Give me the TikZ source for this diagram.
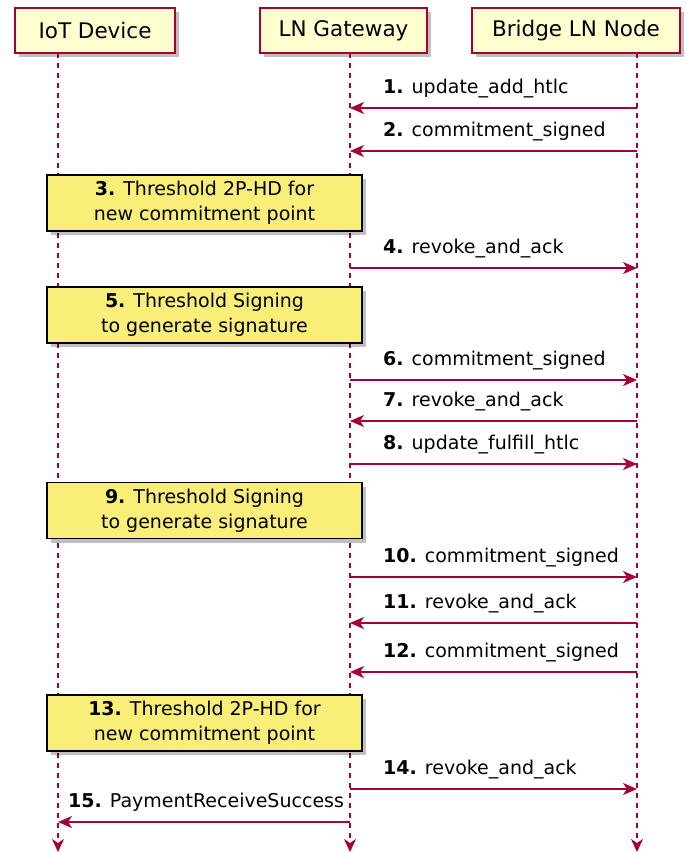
\documentclass[tikz,border=0pt]{standalone}
\usepackage{fontspec}
\setmainfont{DejaVu Sans}
\usepackage{xcolor}
\usetikzlibrary{arrows.meta}
\usetikzlibrary{calc}
\usetikzlibrary{shadows}
\definecolor{seqline}{HTML}{A80036}
\definecolor{seqpart}{HTML}{FEFECE}
\definecolor{seqnote}{HTML}{F8EE78}
\tikzset{
    participant/.style={draw=seqline, fill=seqpart, line width=1.2pt, inner sep=0pt,
        minimum height=45pt, font=\fontsize{21.5}{25}\selectfont,
        drop shadow={shadow xshift=4pt, shadow yshift=-4pt, fill=black, opacity=0.25}},
    notebox/.style={draw=black, fill=seqnote, line width=1.2pt, inner sep=0pt,
        minimum width=315pt, minimum height=56pt, align=center,
        font=\fontsize{19}{25}\selectfont,
        drop shadow={shadow xshift=4pt, shadow yshift=-4pt, fill=black, opacity=0.25}},
    lifeline/.style={seqline, line width=1.2pt, dash pattern=on 5pt off 5pt,
        -{Stealth[length=13pt, width=12pt, inset=4pt]}},
    message/.style={seqline, line width=1.5pt,
        -{Stealth[length=14pt, width=12pt, inset=4pt]}},
    msglabel/.style={anchor=base west, inner sep=0pt, font=\fontsize{19}{25}\selectfont}
}
\begin{document}
\begin{tikzpicture}[x=1pt, y=-1pt]
        \newcommand{\seqiotx}{58}
        \newcommand{\seqgwx}{350}
        \newcommand{\seqbrx}{637}
        \newcommand{\seqlabx}{383}
        \useasboundingbox (0,0) rectangle (686,852);
        % participants
        \node[participant, minimum width=160pt] (iot) at (95,30.5) {IoT Device};
        \node[participant, minimum width=167pt] (gw) at (343.5,30.5) {LN Gateway};
        \node[participant, minimum width=208pt] (br) at (576,30.5) {Bridge LN Node};
        % lifelines
        \coordinate (iottop) at (\seqiotx,53);
        \coordinate (gwtop) at (\seqgwx,53);
        \coordinate (brtop) at (\seqbrx,53);
        \coordinate (iotend) at (\seqiotx,852);
        \coordinate (gwend) at (\seqgwx,852);
        \coordinate (brend) at (\seqbrx,852);
        \draw[lifeline] (iottop) -- (iotend);
        \draw[lifeline] (gwtop) -- (gwend);
        \draw[lifeline] (brtop) -- (brend);
        % messages between gateway and bridge
        \foreach \i/\y/\dir/\txt in {1/108/l/update\_add\_htlc, 2/151/l/commitment\_signed,
                4/268/r/revoke\_and\_ack, 6/380/r/commitment\_signed,
                7/421/l/revoke\_and\_ack, 8/464/r/update\_fulfill\_htlc,
                10/577/r/commitment\_signed, 11/623/l/revoke\_and\_ack,
                12/672/l/commitment\_signed, 14/789/r/revoke\_and\_ack} {
            \coordinate (gw\i) at (\seqgwx,\y);
            \coordinate (br\i) at (\seqbrx,\y);
            \node[msglabel] (lab\i) at (\seqlabx,\y-15) {\textbf{\i.} \txt};
            \if l\dir
                \draw[message] (br\i) -- (gw\i);
            \else
                \draw[message] (gw\i) -- (br\i);
            \fi
        }
        % notes
        \node[notebox] (note3) at (204.5,203) {\textbf{3.} Threshold 2P-HD for\\new commitment point};
        \node[notebox] (note5) at (204.5,315) {\textbf{5.} Threshold Signing\\to generate signature};
        \node[notebox] (note9) at (204.5,510.5) {\textbf{9.} Threshold Signing\\to generate signature};
        \node[notebox] (note13) at (204.5,723) {\textbf{13.} Threshold 2P-HD for\\new commitment point};
        % last message back to the device
        \coordinate (gw15) at (\seqgwx,822);
        \coordinate (iot15) at (\seqiotx,822);
        \node[msglabel] (lab15) at (68,807) {\textbf{15.} PaymentReceiveSuccess};
        \draw[message] (gw15) -- (iot15);
    \end{tikzpicture}
\end{document}
